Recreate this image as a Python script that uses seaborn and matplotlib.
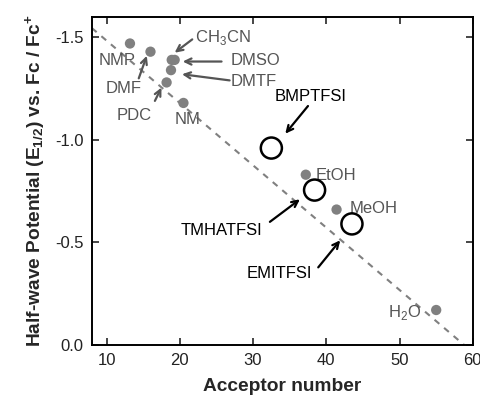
import pandas as pd
import seaborn as sns
import matplotlib.pyplot as plt
import numpy as np

# solvents (grey dots) and ionic liquids (open circles)
solvents = ['NMP', 'DMF', 'CH3CN', 'DMSO', 'DMTF', 'PDC', 'NM', 'EtOH', 'MeOH', 'H2O']
solvent_an = [13.2, 16.0, 18.9, 19.3, 18.8, 18.2, 20.5, 37.2, 41.4, 55.0]
solvent_e = [-1.47, -1.43, -1.39, -1.39, -1.34, -1.28, -1.18, -0.83, -0.66, -0.17]

ils = ['BMPTFSI', 'TMHATFSI', 'EMITFSI']
il_an = [32.5, 38.4, 43.5]
il_e = [-0.96, -0.755, -0.59]

# dashed fit line end points
fit_an = [8.0, 58.8]
fit_e = [-1.545, 0.0]

sns.set_style('ticks')
plt.rcParams['font.family'] = ['Liberation Sans', 'DejaVu Sans']
plt.rcParams['mathtext.fontset'] = 'custom'
plt.rcParams['mathtext.rm'] = 'Liberation Sans'
plt.rcParams['mathtext.bf'] = 'Liberation Sans:bold'
plt.rcParams['axes.unicode_minus'] = False

fig = plt.figure(figsize=(4.81, 4.01), dpi=100)
ax = fig.add_axes([0.191, 0.140, 0.792, 0.818])

sns.lineplot(x=fit_an, y=fit_e, ax=ax, color='#808080', linestyle=(0, (3, 3)), linewidth=1.5)
sns.scatterplot(x=solvent_an, y=solvent_e, ax=ax, color='#808080', s=55, edgecolor='none', zorder=3)
sns.scatterplot(x=il_an, y=il_e, ax=ax, facecolor='none', edgecolor='black', s=230, linewidth=1.8, zorder=4)

grey = '#555555'
fs = 12
# plain labels
ax.text(11.5, -1.385, 'NMP', color=grey, fontsize=fs, ha='center', va='center')
ax.text(21.1, -1.10, 'NM', color=grey, fontsize=fs, ha='center', va='center')
ax.text(38.5, -0.825, 'EtOH', color=grey, fontsize=fs, ha='left', va='center')
ax.text(43.2, -0.667, 'MeOH', color=grey, fontsize=fs, ha='left', va='center')
ax.text(50.7, -0.16, 'H$_2$O', color=grey, fontsize=fs, ha='center', va='center')

# labels with arrows: (text, text xy, arrow tip xy, arrow tail xy, colour)
arrows = [
    ('CH$_3$CN', (22.1, -1.50), (19.3, -1.425), (21.7, -1.49), grey, 'left'),
    ('DMSO', (26.9, -1.385), (20.4, -1.382), (25.7, -1.382), grey, 'left'),
    ('DMTF', (27.0, -1.285), (20.3, -1.32), (26.8, -1.29), grey, 'left'),
    ('DMF', (12.3, -1.25), (15.5, -1.41), (14.4, -1.30), grey, 'center'),
    ('PDC', (13.8, -1.12), (17.5, -1.255), (16.6, -1.19), grey, 'center'),
    ('BMPTFSI', (37.9, -1.21), (34.4, -1.03), (37.5, -1.165), 'black', 'center'),
    ('TMHATFSI', (25.7, -0.56), (36.4, -0.71), (32.3, -0.60), 'black', 'center'),
    ('EMITFSI', (33.6, -0.35), (41.9, -0.51), (38.9, -0.378), 'black', 'center'),
]
for label, txy, tip, tail, col, ha in arrows:
    ax.text(txy[0], txy[1], label, color=col, fontsize=fs, ha=ha, va='center')
    ax.annotate('', xy=tip, xytext=tail,
                arrowprops=dict(arrowstyle='->,head_length=0.45,head_width=0.22', color=col,
                                lw=1.6, shrinkA=0, shrinkB=0))

ax.set_xlim(8, 60)
ax.set_ylim(0, -1.6)
ax.set_xticks([10, 20, 30, 40, 50, 60])
ax.set_yticks([0.0, -0.5, -1.0, -1.5])
ax.set_yticklabels(['0.0', '-0.5', '-1.0', '-1.5'])
ax.tick_params(direction='in', top=True, right=True, length=5, width=1.2,
               labelsize=12, labelcolor='#222222', pad=6)
for sp in ax.spines.values():
    sp.set_linewidth(1.4)
    sp.set_color('black')

ax.set_xlabel('Acceptor number', fontsize=13.8, fontweight='bold', labelpad=7)
ax.set_ylabel(r'Half-wave Potential ($\mathbf{E_{1/2}}$) vs. Fc / Fc$^\mathbf{+}$',
              fontsize=13.8, fontweight='bold', labelpad=5)

fig.savefig('out.png', dpi=100)
